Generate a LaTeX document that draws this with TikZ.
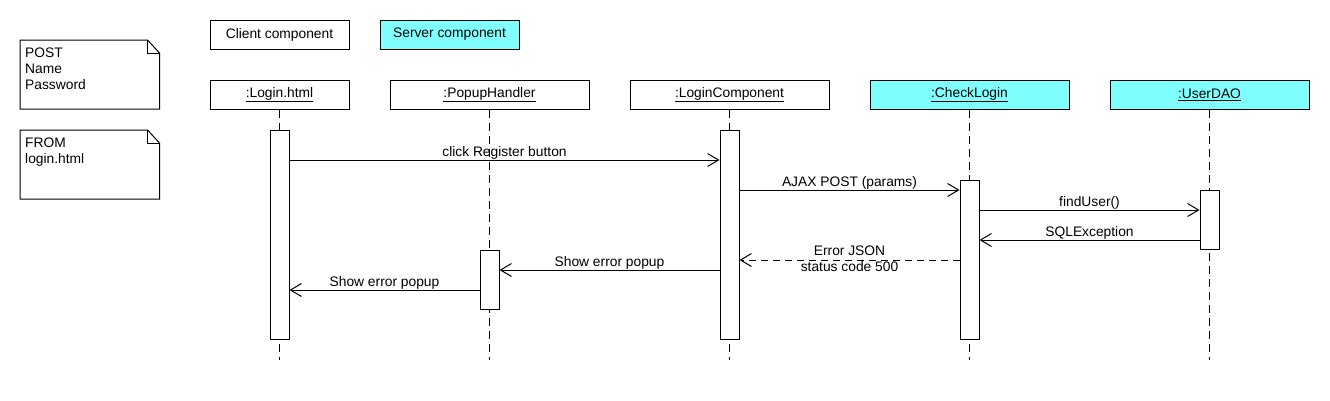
\documentclass[tikz,border=0pt]{standalone}
\usepackage{fontspec}
\setmainfont{Liberation Sans}
\usetikzlibrary{arrows.meta}
\definecolor{srv}{RGB}{128,255,255}
\begin{document}
\begin{tikzpicture}[x=1pt,y=-1pt,
  every node/.style={font=\fontsize{13.8}{16}\selectfont, inner sep=0pt},
  box/.style={draw, line width=1pt, minimum height=29pt},
  legend/.style={box, minimum width=139pt},
  head/.style={box, minimum width=199pt},
  bar/.style={draw, fill=white, line width=1pt, minimum width=19pt},
  life/.style={line width=1pt, dash pattern=on 8pt off 5pt},
  msg/.style={line width=1pt, -{Straight Barb[length=11pt,width=13pt]}},
  reply/.style={msg, dash pattern=on 7pt off 5pt},
  lbl/.style={anchor=base},
  notetext/.style={anchor=north west, align=left},
  noteline/.style={line width=1pt}
]
\useasboundingbox (0,0) rectangle (1330,400);

% notes
\draw[noteline] (20,40) -- (147.5,40) -- (159.5,53) -- (159.5,109) -- (20,109) -- cycle;
\draw[noteline] (147.5,40) -- (147.5,53) -- (159.5,53);
\node[notetext] (note1) at (25,48) {POST\\Name\\Password};
\draw[noteline] (20,130) -- (147.5,130) -- (159.5,143) -- (159.5,199) -- (20,199) -- cycle;
\draw[noteline] (147.5,130) -- (147.5,143) -- (159.5,143);
\node[notetext] (note2) at (25,138) {FROM\\login.html};

% legend
\node[legend] (client) at (279.5,34.5) {Client component};
\node[legend, fill=srv] (server) at (449.5,34.5) {Server component};

% heads
\node[box, minimum width=139pt] (hLogin) at (279.5,94.5) {\underline{:Login.html}};
\node[head] (hPopup) at (489.5,94.5) {\underline{:PopupHandler}};
\node[head] (hLC) at (729.5,94.5) {\underline{:LoginComponent}};
\node[head, fill=srv] (hCL) at (969.5,94.5) {\underline{:CheckLogin}};
\node[head, fill=srv] (hDAO) at (1209.5,94.5) {\underline{:UserDAO}};

% lifelines
\coordinate (eLogin) at (hLogin.south |- 0,360);
\coordinate (ePopup) at (hPopup.south |- 0,360);
\coordinate (eLC) at (hLC.south |- 0,360);
\coordinate (eCL) at (hCL.south |- 0,360);
\coordinate (eDAO) at (hDAO.south |- 0,360);
\draw[life] (hLogin.south) -- (eLogin);
\draw[life] (hPopup.south) -- (ePopup);
\draw[life] (hLC.south) -- (eLC);
\draw[life] (hCL.south) -- (eCL);
\draw[life] (hDAO.south) -- (eDAO);

% activation bars
\node[bar, minimum height=209pt] (bLogin) at (279.5,234.5) {};
\node[bar, minimum height=59pt] (bPopup) at (489.5,279.5) {};
\node[bar, minimum height=209pt] (bLC) at (729.5,234.5) {};
\node[bar, minimum height=159pt] (bCL) at (969.5,259.5) {};
\node[bar, minimum height=59pt] (bDAO) at (1209.5,219.5) {};

% messages
\draw[msg] (bLogin.east |- 0,160) -- (bLC.west |- 0,160);
\node[lbl] (m1) at (504.5,156) {click Register button};
\draw[msg] (bLC.east |- 0,190) -- (bCL.west |- 0,190);
\node[lbl] (m2) at (849.5,186) {AJAX POST (params)};
\draw[msg] (bCL.east |- 0,210) -- (bDAO.west |- 0,210);
\node[lbl] (m3) at (1089.5,206) {findUser()};
\draw[msg] (bDAO.west |- 0,240) -- (bCL.east |- 0,240);
\node[lbl] (m4) at (1089.5,236) {SQLException};
\draw[reply] (bCL.west |- 0,260) -- (bLC.east |- 0,260);
\node[anchor=north, align=center] (m5) at (849.5,246) {Error JSON\\status code 500};
\draw[msg] (bLC.west |- 0,270) -- (bPopup.east |- 0,270);
\node[lbl] (m6) at (609.5,266) {Show error popup};
\draw[msg] (bPopup.west |- 0,290) -- (bLogin.east |- 0,290);
\node[lbl] (m7) at (384.5,286) {Show error popup};
\end{tikzpicture}
\end{document}
